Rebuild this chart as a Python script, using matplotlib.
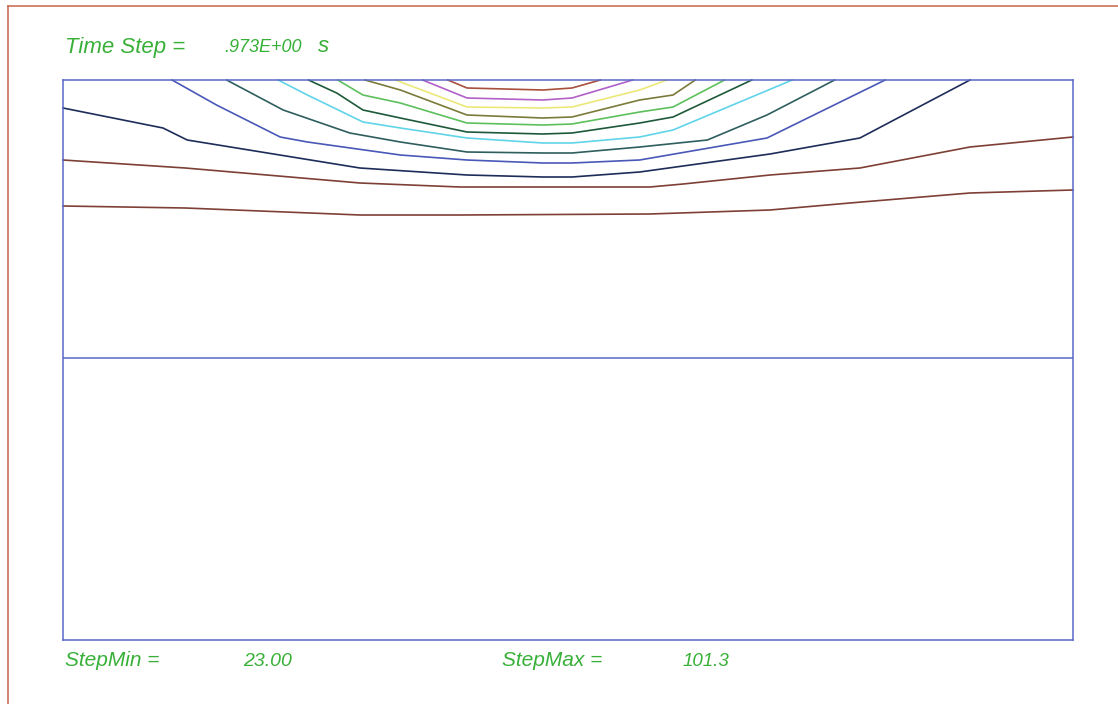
import matplotlib
matplotlib.use("Agg")
import matplotlib.pyplot as plt
from matplotlib.lines import Line2D

# domain (m): width 10, height 5.6; interface between layers
x_min, x_max = 0.0, 10.0
y_min, y_max = 0.0, 5.6
interface_y = 2.82

# contour polylines, hottest first
red_x = [3.81, 4.00, 4.75, 5.04, 5.32]
red_y = [5.60, 5.52, 5.50, 5.52, 5.60]
purple_x = [3.56, 4.00, 4.75, 5.04, 5.64]
purple_y = [5.60, 5.42, 5.40, 5.42, 5.60]
yellow_x = [3.29, 4.00, 4.75, 5.04, 5.71, 5.98]
yellow_y = [5.60, 5.33, 5.32, 5.33, 5.50, 5.60]
olive_x = [2.99, 3.34, 4.00, 4.75, 5.04, 5.71, 6.04, 6.26]
olive_y = [5.60, 5.50, 5.25, 5.22, 5.23, 5.40, 5.45, 5.60]
green_x = [2.72, 2.97, 3.34, 4.00, 4.75, 5.04, 5.71, 6.04, 6.55]
green_y = [5.60, 5.45, 5.37, 5.17, 5.15, 5.16, 5.28, 5.33, 5.60]
dkgreen_x = [2.43, 2.71, 2.97, 3.34, 4.00, 4.75, 5.04, 5.71, 6.04, 6.82]
dkgreen_y = [5.60, 5.47, 5.30, 5.22, 5.08, 5.06, 5.07, 5.17, 5.23, 5.60]
cyan_x = [2.13, 2.42, 2.97, 3.34, 4.00, 4.75, 5.04, 5.71, 6.04, 7.22]
cyan_y = [5.60, 5.45, 5.18, 5.12, 5.02, 4.97, 4.97, 5.03, 5.10, 5.60]
teal_x = [1.62, 2.18, 2.84, 3.34, 4.00, 4.75, 5.04, 5.71, 6.38, 6.97, 7.64]
teal_y = [5.60, 5.30, 5.07, 4.98, 4.88, 4.87, 4.87, 4.93, 5.00, 5.25, 5.60]
blue_x = [1.08, 1.52, 2.15, 2.42, 3.34, 4.00, 4.75, 5.04, 5.71, 6.97, 8.14]
blue_y = [5.60, 5.35, 5.03, 4.98, 4.85, 4.80, 4.77, 4.77, 4.80, 5.02, 5.60]
navy_x = [0.00, 0.99, 1.23, 2.94, 4.00, 4.75, 5.04, 5.71, 7.00, 7.89, 8.98]
navy_y = [5.32, 5.12, 5.00, 4.72, 4.65, 4.63, 4.63, 4.68, 4.86, 5.02, 5.60]
brown1_x = [0.00, 1.21, 2.94, 3.93, 5.81, 6.14, 7.00, 7.89, 8.98, 10.0]
brown1_y = [4.80, 4.72, 4.57, 4.53, 4.53, 4.56, 4.65, 4.72, 4.93, 5.03]
brown2_x = [0.00, 1.21, 2.94, 3.93, 5.81, 7.00, 7.79, 8.98, 10.0]
brown2_y = [4.34, 4.32, 4.25, 4.25, 4.26, 4.30, 4.37, 4.47, 4.50]

contours = [
    (red_x, red_y, '#a8503c'),
    (purple_x, purple_y, '#b060c8'),
    (yellow_x, yellow_y, '#ece878'),
    (olive_x, olive_y, '#7a7a3a'),
    (green_x, green_y, '#5cc05c'),
    (dkgreen_x, dkgreen_y, '#1e5a3a'),
    (cyan_x, cyan_y, '#60d4e8'),
    (teal_x, teal_y, '#2e5e5e'),
    (blue_x, blue_y, '#4a58b8'),
    (navy_x, navy_y, '#1e2c5a'),
    (brown1_x, brown1_y, '#7e4036'),
    (brown2_x, brown2_y, '#7e4036'),
]

time_step = '.973E+00'
step_min = '23.00'
step_max = '101.3'

box_color = '#5a68c8'
text_color = '#38b038'
frame_color = '#cc7058'

W, H = 1118, 704
fig = plt.figure(figsize=(W / 100, H / 100), dpi=100)
fig.patch.set_facecolor('white')

# outer frame (only top and left edges are inside the picture)
fig.add_artist(Line2D([8 / W, 1.0], [1 - 6 / H, 1 - 6 / H], color=frame_color, lw=1.2))
fig.add_artist(Line2D([8 / W, 8 / W], [0.0, 1 - 6 / H], color=frame_color, lw=1.2))

ax = fig.add_axes([63 / W, (H - 640) / H, 1010 / W, 560 / H])
ax.set_xlim(x_min, x_max)
ax.set_ylim(y_min, y_max)
ax.set_xticks([])
ax.set_yticks([])
for sp in ax.spines.values():
    sp.set_color(box_color)
    sp.set_linewidth(1.1)

ax.axhline(interface_y, color=box_color, lw=1.1)

for xs, ys, c in contours:
    ax.plot(xs, ys, color=c, lw=1.2, clip_on=False)

font = dict(family='Liberation Sans', style='italic', color=text_color)
fig.text(65 / W, 1 - 47 / H, 'Time Step =', fontsize=16, va='center', **font)
fig.text(224 / W, 1 - 47 / H, time_step, fontsize=13, va='center', **font)
fig.text(318 / W, 1 - 47 / H, 's', fontsize=16, va='center', **font)

fig.text(65 / W, 1 - 660 / H, 'StepMin =', fontsize=15, va='center', **font)
fig.text(243 / W, 1 - 661 / H, step_min, fontsize=14, va='center', **font)
fig.text(502 / W, 1 - 660 / H, 'StepMax =', fontsize=15, va='center', **font)
fig.text(683 / W, 1 - 661 / H, step_max, fontsize=13.5, va='center', **font)

fig.savefig('out.png', dpi=100, facecolor='white')
